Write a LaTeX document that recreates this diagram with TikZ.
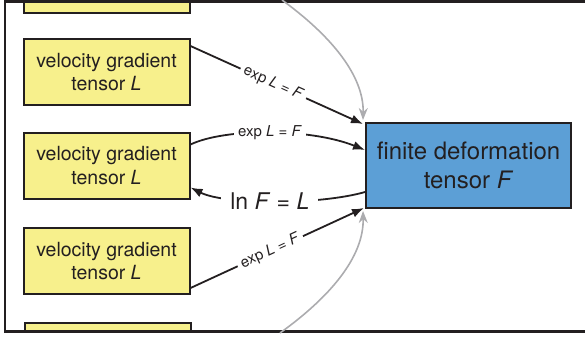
\documentclass[tikz,border=0pt]{standalone}
\usepackage{fontspec}
\setmainfont{TeX Gyre Heros}
\usetikzlibrary{arrows.meta}
\definecolor{ink}{RGB}{35,31,32}
\definecolor{boxyellow}{RGB}{247,240,140}
\definecolor{boxblue}{RGB}{92,159,214}
\definecolor{arcgray}{RGB}{172,172,175}
\begin{document}
\begin{tikzpicture}[x=1pt,y=-1pt,
  vbox/.style={draw=ink, line width=2pt, fill=boxyellow, minimum width=166pt, minimum height=66pt, inner sep=0pt, align=center, text=ink, font=\fontsize{19.5}{23.5}\selectfont},
  defbox/.style={draw=ink, line width=2pt, fill=boxblue, minimum width=205pt, minimum height=85pt, inner sep=0pt, align=center, text=ink, font=\fontsize{24}{29}\selectfont},
  conn/.style={draw=ink, line width=1.8pt, -{Latex[length=12pt,width=9pt]}},
  cyc/.style={draw=arcgray, line width=1.6pt, -{Stealth[length=12pt,width=9pt]}},
  small/.style={fill=white, inner xsep=4pt, inner ysep=2pt, text=ink, font=\fontsize{15}{18}\selectfont},
  big/.style={fill=white, inner xsep=9pt, inner ysep=2pt, text=ink, font=\fontsize{23}{27}\selectfont},
  frame/.style={draw=ink, line width=2.2pt}]
\useasboundingbox (0,0) rectangle (585,338);
\begin{scope}
\clip (5,1.5) rectangle (600,331.5);
\node[vbox] (v1) at (106.5,-20) {velocity gradient\\tensor \textit{L}};
\node[vbox] (v2) at (106.5,72) {velocity gradient\\tensor \textit{L}};
\node[vbox] (v3) at (106.5,165.5) {velocity gradient\\tensor \textit{L}};
\node[vbox] (v4) at (106.5,261) {velocity gradient\\tensor \textit{L}};
\node[vbox] (v5) at (107.5,356) {velocity gradient\\tensor \textit{L}};
\end{scope}
\node[defbox] (F) at (468.5,165.5) {finite deformation\\tensor \textit{F}};
\coordinate (ftr) at (600,1.5);
\coordinate (ftl) at (5,1.5);
\coordinate (fbl) at (5,331.5);
\coordinate (fbr) at (600,331.5);
\draw[frame] (ftr) -- (ftl) -- (fbl) -- (fbr);
\coordinate (a1) at (282,0);
\coordinate (a2) at (280,333);
\draw[cyc] (a1) .. controls (330,35) and (364,75) .. ([xshift=-2pt,yshift=2pt]F.north west);
\draw[cyc] (a2) .. controls (330,297) and (364,257) .. ([xshift=-2pt,yshift=-2pt]F.south west);
\draw[conn] ([yshift=-8pt]v2.north east) -- node[small, sloped, pos=0.48] {exp \textit{L} = \textit{F}} ([xshift=-2pt,yshift=-2pt]F.north west);
\draw[conn] ([yshift=-13pt]v3.north east) .. controls (225,128) and (310,128) .. node[small, pos=0.5] {exp \textit{L} = \textit{F}} ([yshift=-28pt]F.north west);
\draw[conn] ([yshift=-70pt]F.north west) .. controls (320,205) and (225,205) .. node[big, pos=0.52] {ln \textit{F} = \textit{L}} ([yshift=-56pt]v3.north east);
\draw[conn] ([yshift=7pt]v4.south east) -- node[small, sloped, pos=0.46] {exp \textit{L} = \textit{F}} ([xshift=-1pt,yshift=1pt]F.south west);
\end{tikzpicture}
\end{document}
